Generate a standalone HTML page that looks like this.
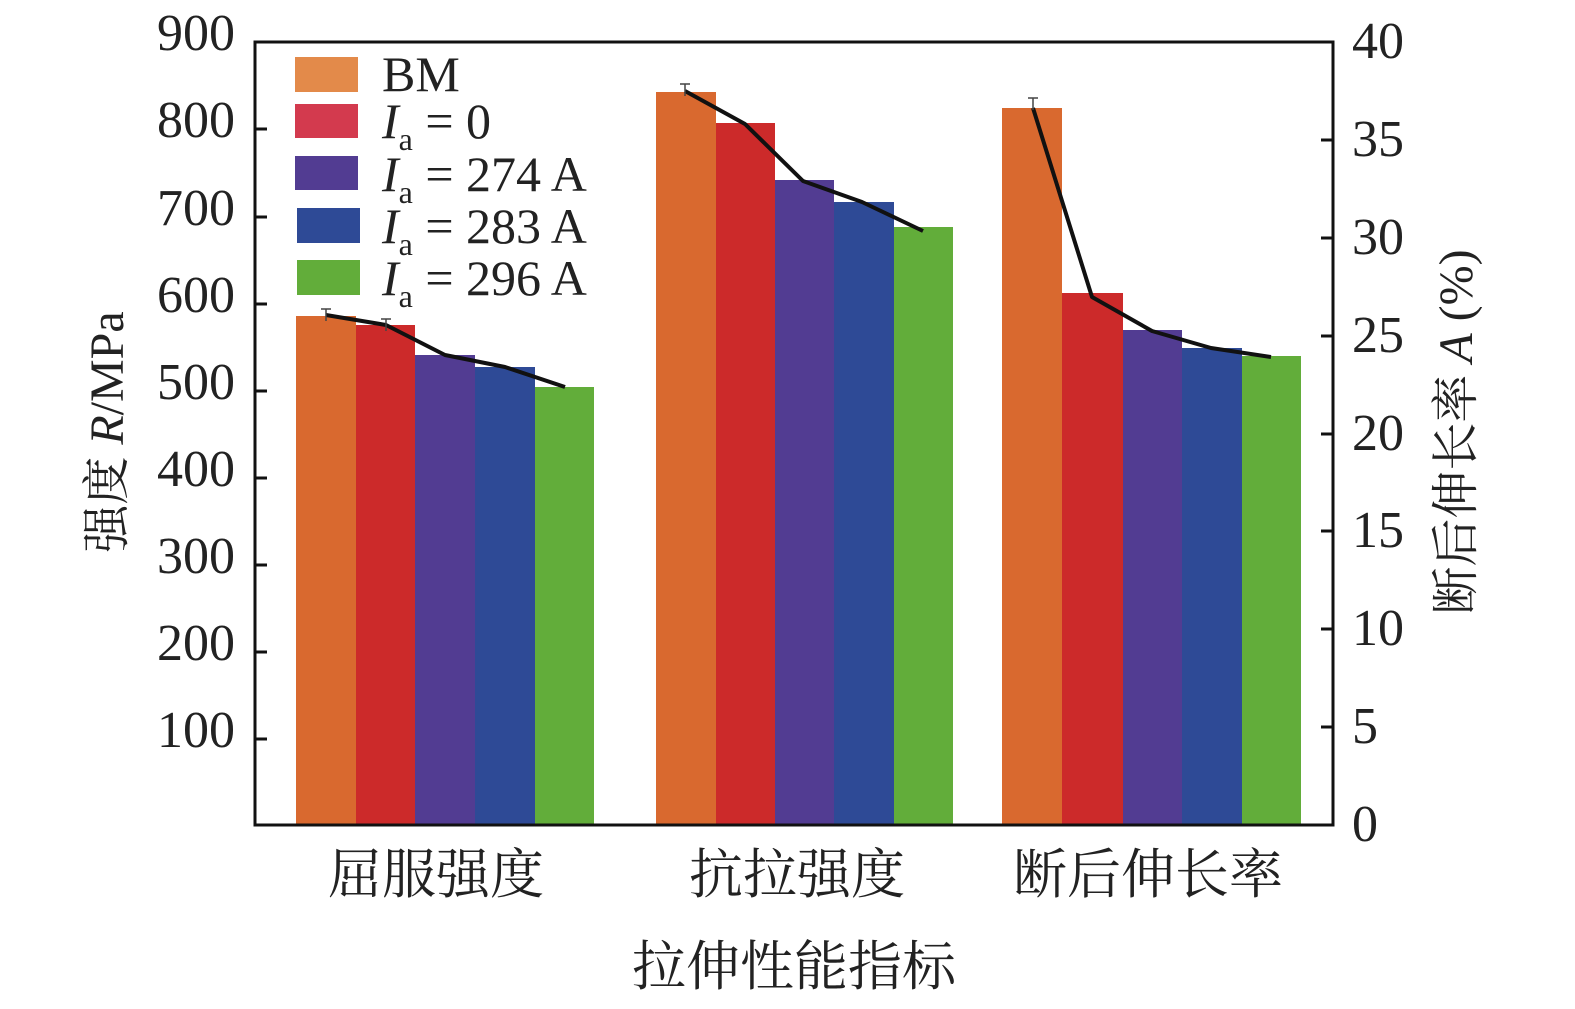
<!DOCTYPE html>
<html><head><meta charset="utf-8"><style>
body{margin:0;background:#fff}
svg text{font-family:"Liberation Serif","Noto Serif CJK SC",serif;fill:#222}
</style></head><body>
<svg width="1575" height="1004" viewBox="0 0 1575 1004" xmlns="http://www.w3.org/2000/svg">
<rect x="296" y="316" width="60" height="509" fill="#d9692f"/>
<rect x="356" y="325" width="59" height="500" fill="#cc2a2a"/>
<rect x="415" y="355" width="60" height="470" fill="#523c92"/>
<rect x="475" y="367" width="60" height="458" fill="#2e4a96"/>
<rect x="535" y="387" width="59" height="438" fill="#62ad3a"/>
<rect x="656" y="92" width="60" height="733" fill="#d9692f"/>
<rect x="716" y="123" width="59" height="702" fill="#cc2a2a"/>
<rect x="775" y="180" width="59" height="645" fill="#523c92"/>
<rect x="834" y="202" width="60" height="623" fill="#2e4a96"/>
<rect x="894" y="227" width="59" height="598" fill="#62ad3a"/>
<rect x="1002" y="108" width="60" height="717" fill="#d9692f"/>
<rect x="1062" y="293" width="61" height="532" fill="#cc2a2a"/>
<rect x="1123" y="330" width="59" height="495" fill="#523c92"/>
<rect x="1182" y="348" width="60" height="477" fill="#2e4a96"/>
<rect x="1242" y="356" width="59" height="469" fill="#62ad3a"/>
<g fill="none" stroke="#111" stroke-width="4" stroke-linejoin="round">
<polyline points="326,315 386,325 445,355 505,367 565,387"/>
<polyline points="685,91 745,124 803,181 862,202 923,231"/>
<polyline points="1033,108 1092,297 1152,331 1211,348 1271,357"/>
</g>
<g stroke="#444" stroke-width="1.5">
<path d="M321,309h10M326,309v12M381,319h10M386,319v12M1028,98h10M1033,98v12M680,84h10M685,84v12"/>
</g>
<rect x="255" y="42" width="1078" height="783" fill="none" stroke="#111" stroke-width="3"/>
<g stroke="#111" stroke-width="3">
<path d="M255,129h12M255,217h12M255,304h12M255,391h12M255,478h12M255,565h12M255,652h12M255,739h12"/>
<path d="M1333,140h-12M1333,238h-12M1333,336h-12M1333,434h-12M1333,531h-12M1333,629h-12M1333,727h-12"/>
</g>
<g font-size="52" text-anchor="end">
<text x="235" y="50">900</text><text x="235" y="137">800</text><text x="235" y="225">700</text>
<text x="235" y="312">600</text><text x="235" y="399">500</text><text x="235" y="486">400</text>
<text x="235" y="573">300</text><text x="235" y="660">200</text><text x="235" y="747">100</text>
</g>
<g font-size="52">
<text x="1352" y="58">40</text><text x="1352" y="156">35</text><text x="1352" y="254">30</text>
<text x="1352" y="352">25</text><text x="1352" y="450">20</text><text x="1352" y="547">15</text>
<text x="1352" y="645">10</text><text x="1352" y="743">5</text><text x="1352" y="841">0</text>
</g>
<rect x="295" y="57" width="63" height="35" fill="#e38a4a"/>
<rect x="295" y="104" width="63" height="34" fill="#d33a4e"/>
<rect x="295" y="156" width="63" height="34" fill="#523c92"/>
<rect x="297" y="208" width="63" height="35" fill="#2e4a96"/>
<rect x="297" y="260" width="63" height="35" fill="#62ad3a"/>
<g font-size="50">
<text x="382" y="91">BM</text>
<text x="382" y="138"><tspan font-style="italic">I</tspan><tspan font-size="32" dy="12">a</tspan><tspan dy="-12"> = 0</tspan></text>
<text x="382" y="191"><tspan font-style="italic">I</tspan><tspan font-size="32" dy="12">a</tspan><tspan dy="-12"> = 274 A</tspan></text>
<text x="382" y="243"><tspan font-style="italic">I</tspan><tspan font-size="32" dy="12">a</tspan><tspan dy="-12"> = 283 A</tspan></text>
<text x="382" y="295"><tspan font-style="italic">I</tspan><tspan font-size="32" dy="12">a</tspan><tspan dy="-12"> = 296 A</tspan></text>
</g>
<g font-size="54" text-anchor="middle" font-family="Noto Serif CJK SC,serif">
<text x="436" y="893">屈服强度</text>
<text x="797" y="893">抗拉强度</text>
<text x="1148" y="893">断后伸长率</text>
<text x="794" y="985">拉伸性能指标</text>
</g>
<text font-size="48" text-anchor="middle" transform="translate(123,432) rotate(-90)">强度 <tspan font-style="italic">R</tspan>/MPa</text>
<text font-size="48" text-anchor="middle" transform="translate(1472,432) rotate(-90)">断后伸长率 <tspan font-style="italic">A</tspan> (%)</text>
</svg>
</body></html>
